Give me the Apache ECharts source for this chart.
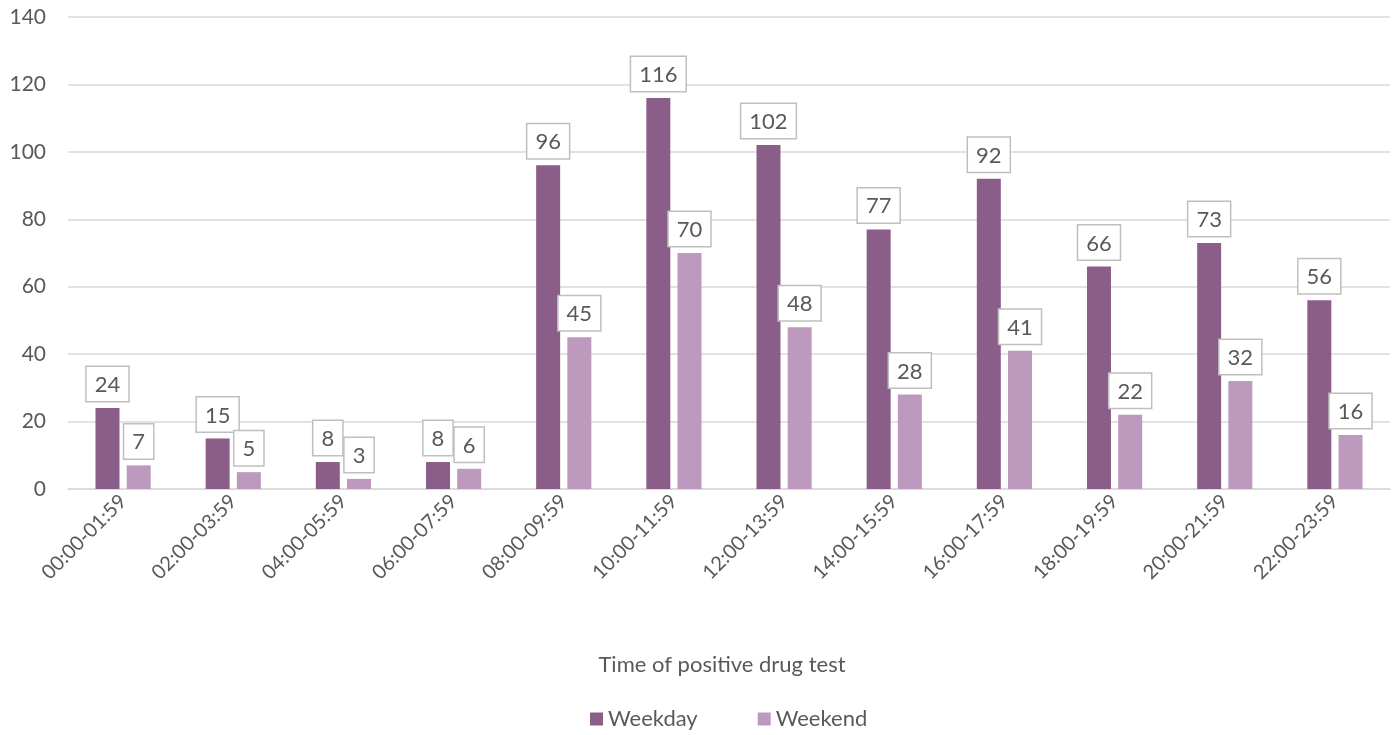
<!DOCTYPE html>
<html><head><meta charset="utf-8">
<script src="https://cdn.jsdelivr.net/npm/echarts@6/dist/echarts.min.js"></script>
<style>html,body{margin:0;padding:0;background:#fff}#c{width:1397px;height:735px}</style>
</head><body><div id="c"></div>
<script>
const categories = ["00:00-01:59","02:00-03:59","04:00-05:59","06:00-07:59","08:00-09:59","10:00-11:59","12:00-13:59","14:00-15:59","16:00-17:59","18:00-19:59","20:00-21:59","22:00-23:59"];
const weekday = [24,15,8,8,96,116,102,77,92,66,73,56];
const weekend = [7,5,3,6,45,70,48,28,41,22,32,16];
const yTicks = {min:0,max:140,interval:20};

const FONT = 'Lato, "Open Sans", sans-serif';
const label = {
  show:true, position:'top', distance:7,
  color:'#595959', fontSize:22, fontFamily:FONT,
  backgroundColor:'#fff', borderColor:'#bfbfbf', borderWidth:1.5,
  padding:[7,8,5,8]
};
const chart = echarts.init(document.getElementById('c'));
chart.setOption({
  animation:false,
  grid:{left:68,right:7,top:17,bottom:246,containLabel:false},
  legend:{bottom:0,left:585,itemWidth:13,itemHeight:13,itemGap:60,icon:'rect',
    textStyle:{color:'#595959',fontSize:22,fontFamily:FONT},
    data:['Weekday','Weekend']},
  xAxis:{type:'category',data:categories,
    axisLine:{lineStyle:{color:'#d9d9d9',width:1.5}},axisTick:{show:false},
    axisLabel:{rotate:45,color:'#595959',fontSize:20,fontFamily:FONT,margin:9,interval:0},
    name:'Time of positive drug test',nameLocation:'middle',nameGap:165,
    nameTextStyle:{color:'#595959',fontSize:22,fontFamily:FONT,padding:[0,14,0,0]}},
  yAxis:{type:'value',min:yTicks.min,max:yTicks.max,interval:yTicks.interval,
    axisLine:{show:false},axisTick:{show:false},
    splitLine:{lineStyle:{color:'#d9d9d9',width:1.5}},
    axisLabel:{color:'#595959',fontSize:21,fontFamily:FONT,margin:22}},
  series:[
    {name:'Weekday',type:'bar',data:weekday,barWidth:24,barGap:'30%',itemStyle:{color:'#8b5e8a'},label},
    {name:'Weekend',type:'bar',data:weekend,barWidth:24,itemStyle:{color:'#bd9abd'},label}
  ]
});
</script></body></html>
